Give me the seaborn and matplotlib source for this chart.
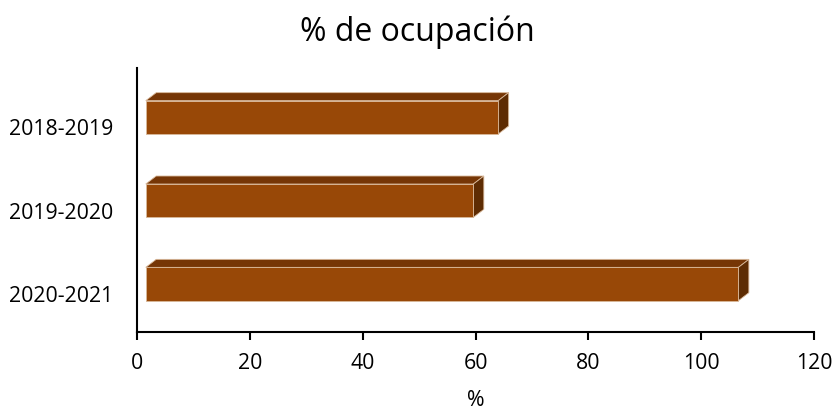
import matplotlib
matplotlib.use('Agg')
import matplotlib.pyplot as plt
from matplotlib.patches import Polygon
from matplotlib.transforms import ScaledTranslation
import seaborn as sns

# Datos
periodos = ['2018-2019', '2019-2020', '2020-2021']
ocupacion = [64.0, 59.6, 106.6]
xticks = [0, 20, 40, 60, 80, 100, 120]

FRONT = '#984807'
TOP = '#763606'
SIDE = '#5e2c03'
EDGE = '#d9b99a'

sns.set_theme(style='white')
plt.rcParams['font.family'] = ['Open Sans', 'DejaVu Sans']
plt.rcParams['text.color'] = 'black'
plt.rcParams['xtick.color'] = 'black'
plt.rcParams['ytick.color'] = 'black'
plt.rcParams['axes.labelcolor'] = 'black'

fig = plt.figure(figsize=(8.35, 4.11), dpi=100)
ax = fig.add_axes([137.3 / 835, 1 - 331.7 / 411, (814 - 137.3) / 835, (331.7 - 68) / 411])

sns.barplot(x=ocupacion, y=periodos, orient='h', width=0.4, color=FRONT,
            saturation=1, ax=ax, zorder=3)

# efecto 3D: caras superior y lateral
dx, dy, x0 = 1.85, 0.096, 1.5
for p in ax.patches[:len(periodos)]:
    y = p.get_y()
    h = p.get_height()
    x1 = p.get_width()
    p.set_x(x0)
    p.set_width(x1 - x0)
    p.set_edgecolor(EDGE)
    p.set_linewidth(0.6)
    top = Polygon([(x0, y), (x0 + dx, y - dy), (x1 + dx, y - dy), (x1, y)],
                  closed=True, facecolor=TOP, edgecolor=EDGE, linewidth=0.6, zorder=2)
    side = Polygon([(x1, y), (x1 + dx, y - dy), (x1 + dx, y + h - dy), (x1, y + h)],
                   closed=True, facecolor=SIDE, edgecolor=EDGE, linewidth=0.6, zorder=2)
    ax.add_patch(top)
    ax.add_patch(side)

ax.set_xlim(0, 120)
ax.set_ylim(2.572, -0.592)
ax.set_xticks(xticks)
ax.set_xticklabels([str(t) for t in xticks], fontsize=15.3)
ax.tick_params(axis='x', bottom=True, direction='out', length=6, width=1.5, color='black', pad=9)
ax.tick_params(axis='y', left=False, length=0, labelsize=15.3, pad=17)

off = ScaledTranslation(0, -10 / 100, fig.dpi_scale_trans)
for lab in ax.get_yticklabels():
    lab.set_transform(lab.get_transform() + off)

for side_name in ['top', 'right']:
    ax.spines[side_name].set_visible(False)
for side_name in ['left', 'bottom']:
    ax.spines[side_name].set_color('black')
    ax.spines[side_name].set_linewidth(1.5)

ax.set_xlabel('%', fontsize=15.3, labelpad=12)
ax.set_ylabel('')
fig.text(0.5, 1 - 32 / 411, '% de ocupación', ha='center', va='center', fontsize=23)

fig.savefig('out.png', dpi=100)
